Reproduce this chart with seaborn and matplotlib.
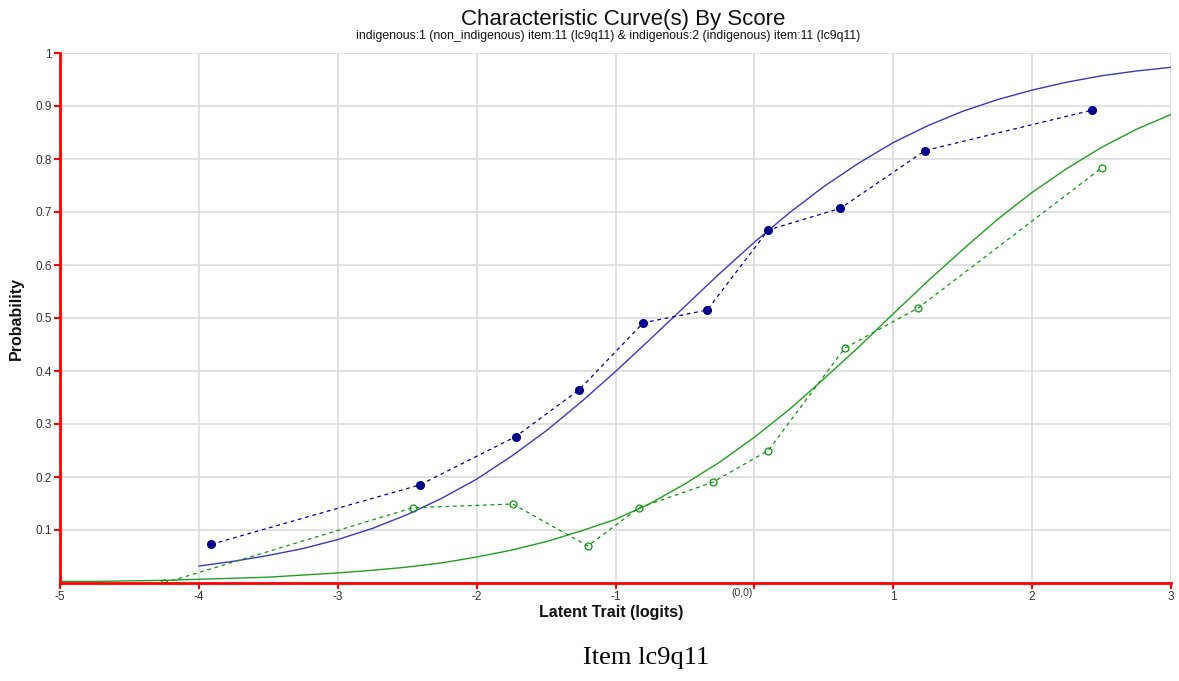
import matplotlib
matplotlib.use('Agg')
import pandas as pd
import matplotlib.pyplot as plt
import matplotlib.transforms as mtransforms
import seaborn as sns

# observed proportions by score group
non_obs_x = [-3.91, -2.41, -1.72, -1.26, -0.80, -0.34, 0.10, 0.62, 1.23, 2.43]
non_obs_y = [0.073, 0.185, 0.276, 0.365, 0.491, 0.515, 0.666, 0.707, 0.816, 0.892]
ind_obs_x = [-4.25, -2.46, -1.74, -1.20, -0.83, -0.30, 0.10, 0.65, 1.18, 2.50]
ind_obs_y = [0.000, 0.142, 0.149, 0.070, 0.142, 0.190, 0.250, 0.443, 0.519, 0.783]

# model curves
non_curve_x = [-4.0, -3.75, -3.5, -3.25, -3.0, -2.75, -2.5, -2.25, -2.0, -1.75,
               -1.5, -1.25, -1.0, -0.75, -0.5, -0.25, 0.0, 0.25, 0.5, 0.75,
               1.0, 1.25, 1.5, 1.75, 2.0, 2.25, 2.5, 2.75, 3.0]
non_curve_y = [0.032, 0.041, 0.052, 0.065, 0.082, 0.103, 0.129, 0.160, 0.196, 0.239,
               0.287, 0.341, 0.399, 0.460, 0.522, 0.584, 0.643, 0.698, 0.748, 0.792,
               0.831, 0.863, 0.890, 0.912, 0.930, 0.945, 0.957, 0.966, 0.973]
ind_curve_x = [-5.0, -4.75, -4.5, -4.25, -4.0, -3.75, -3.5, -3.25, -3.0, -2.75,
               -2.5, -2.25, -2.0, -1.75, -1.5, -1.25, -1.0, -0.75, -0.5, -0.25,
               0.0, 0.25, 0.5, 0.75, 1.0, 1.25, 1.5, 1.75, 2.0, 2.25,
               2.5, 2.75, 3.0]
ind_curve_y = [0.003, 0.003, 0.004, 0.005, 0.007, 0.009, 0.011, 0.015, 0.019, 0.024,
               0.030, 0.038, 0.049, 0.062, 0.078, 0.098, 0.120, 0.150, 0.187, 0.228,
               0.275, 0.327, 0.385, 0.445, 0.508, 0.570, 0.629, 0.686, 0.737, 0.782,
               0.822, 0.856, 0.884]

x_ticks = [-5, -4, -3, -2, -1, 0, 1, 2, 3]
x_tick_labels = ['-5', '-4', '-3', '-2', '-1', '', '1', '2', '3']
y_ticks = [0.1, 0.2, 0.3, 0.4, 0.5, 0.6, 0.7, 0.8, 0.9, 1.0]
y_tick_labels = ['0.1', '0.2', '0.3', '0.4', '0.5', '0.6', '0.7', '0.8', '0.9', '1']

sns.set_style('white')
plt.rcParams['font.family'] = ['Liberation Sans', 'DejaVu Sans']

blue_line = '#3a3ab8'
blue_dark = '#00008b'
green_line = '#239d23'
green_dark = '#129212'

fig = plt.figure(figsize=(11.79, 6.81), dpi=100)
ax = fig.add_axes([60 / 1179, 1 - 583 / 681, 1111 / 1179, 530 / 681])

non_curve = pd.DataFrame({'x': non_curve_x, 'y': non_curve_y})
ind_curve = pd.DataFrame({'x': ind_curve_x, 'y': ind_curve_y})
non_obs = pd.DataFrame({'x': non_obs_x, 'y': non_obs_y})
ind_obs = pd.DataFrame({'x': ind_obs_x, 'y': ind_obs_y})

sns.lineplot(data=non_curve, x='x', y='y', ax=ax, color=blue_line, lw=1.0,
             sort=False, estimator=None, zorder=3)
sns.lineplot(data=ind_curve, x='x', y='y', ax=ax, color=green_line, lw=1.0,
             sort=False, estimator=None, zorder=3)
sns.lineplot(data=non_obs, x='x', y='y', ax=ax, color=blue_dark, lw=0.9,
             sort=False, estimator=None, zorder=4, linestyle=(0, (3, 3)))
sns.lineplot(data=ind_obs, x='x', y='y', ax=ax, color=green_dark, lw=0.9,
             sort=False, estimator=None, zorder=4, linestyle=(0, (3, 3)))
ax.plot(non_obs['x'], non_obs['y'], 'o', color=blue_dark, ms=5.5, zorder=5)
ax.plot(ind_obs['x'], ind_obs['y'], 'o', mfc='none', mec=green_dark, mew=0.9,
        ms=5, zorder=5)

ax.set_xlim(-5, 3)
ax.set_ylim(0, 1)
ax.set_xticks(x_ticks)
ax.set_xticklabels(x_tick_labels)
ax.set_yticks(y_ticks)
ax.set_yticklabels(y_tick_labels)
ax.tick_params(axis='both', length=4, width=1.5, color='red', labelsize=8.5,
               labelcolor='#333333', pad=2, direction='out')
ax.tick_params(axis='x', bottom=True)
ax.tick_params(axis='y', left=True)

ax.grid(True, color='#dedede', lw=1.3, zorder=0)
ax.set_axisbelow(True)
for side in ['top', 'right']:
    ax.spines[side].set_visible(False)
for side in ['left', 'bottom']:
    ax.spines[side].set_color('red')
    ax.spines[side].set_linewidth(2)
    ax.spines[side].set_zorder(6)

ax.set_xlabel('Latent Trait (logits)', fontsize=11.5, fontweight='bold', color='#111111')
ax.xaxis.set_label_coords((611 - 60) / 1111, (583 - 605) / 530)
ax.set_ylabel('Probability', fontsize=11.5, fontweight='bold', color='#111111')
ax.yaxis.set_label_coords((24 - 60) / 1111, 0.5)

trans = mtransforms.blended_transform_factory(ax.transData, ax.transAxes)
ax.text(-0.01, (583 - 593) / 530, '(0,0)', transform=trans, ha='right', va='center',
        fontsize=7.5, color='#333333')

fig.text(623 / 1179, 1 - 19 / 681, 'Characteristic Curve(s) By Score', ha='center',
         va='center', fontsize=16, color='#111111')
fig.text(608 / 1179, 1 - 36 / 681,
         'indigenous:1 (non_indigenous) item:11 (lc9q11) & indigenous:2 (indigenous) item:11 (lc9q11)',
         ha='center', va='center', fontsize=8.8, color='#111111')
fig.text(646 / 1179, 1 - 658 / 681, 'Item lc9q11', ha='center', va='center',
         fontsize=19, family=['Liberation Serif', 'DejaVu Serif'], color='black')

fig.savefig('out.png', dpi=100)
